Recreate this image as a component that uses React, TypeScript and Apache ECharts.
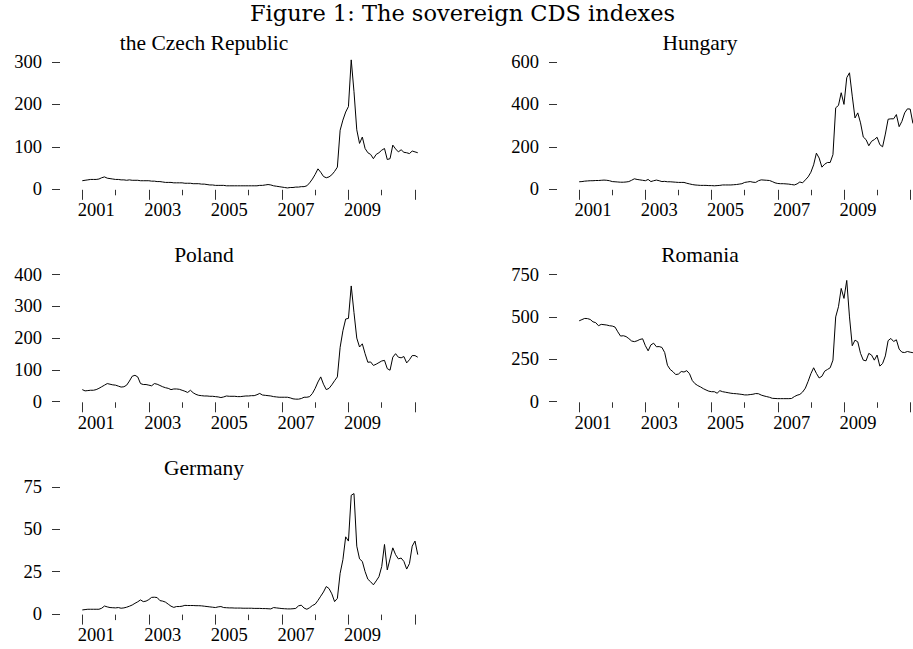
import React, { useEffect, useRef } from "react";
import * as echarts from "echarts";

// ---------- data (monthly, Jan 2001 .. Feb 2011) ----------
const START_YEAR = 2001;
const MAJOR_TICK_YEARS = [2001, 2003, 2005, 2007, 2009, 2011];
const MINOR_TICK_YEARS = [2002, 2004, 2006, 2008, 2010];
const LABEL_YEARS = [2001, 2003, 2005, 2007, 2009];

const czech = [
  20, 21, 22, 23, 23, 23, 24, 27, 29, 26, 25, 24,
  23, 23, 22, 22, 21, 22, 21, 21, 21, 20, 20, 20,
  20, 19, 19, 18, 18, 17, 16, 16, 16, 15, 15, 15,
  15, 14, 14, 14, 13, 13, 13, 12, 12, 11, 10, 10,
  9, 9, 9, 9, 8, 8, 8, 8, 8, 8, 8, 8,
  8, 8, 8, 8, 9, 9, 10, 11, 10, 8, 7, 6,
  5, 4, 3, 4, 4, 5, 5, 6, 6, 8, 15, 24,
  35, 48, 40, 30, 27, 29, 34, 42, 52, 139, 163, 182,
  195, 305, 230, 140, 108, 123, 96, 86, 82, 72, 82, 86,
  92, 96, 70, 72, 104, 95, 88, 93, 87, 86, 84, 90,
  88, 86,
];

const hungary = [
  35, 36, 38, 39, 40, 40, 41, 41, 42, 43, 42, 40,
  36, 35, 34, 33, 33, 34, 36, 42, 49, 46, 44, 42,
  40, 46, 36, 40, 43, 40, 36, 37, 35, 35, 34, 33,
  32, 32, 32, 28, 25, 22, 20, 19, 18, 18, 18, 17,
  17, 16, 17, 18, 20, 20, 20, 20, 21, 22, 24, 26,
  32, 34, 36, 33, 32, 40, 44, 43, 42, 41, 36, 30,
  27, 26, 26, 25, 24, 22, 20, 25, 34, 30, 44, 58,
  80, 115, 170, 147, 104, 118, 126, 126, 163, 384, 395, 455,
  400, 526, 549, 439, 336, 360, 313, 246, 234, 205, 226, 234,
  245, 210, 200, 260, 330, 332, 332, 352, 295, 320, 360, 379,
  378, 310,
];

const poland = [
  38, 34, 35, 36, 36, 38, 42, 47, 52, 57, 55, 53,
  52, 49, 46, 47, 52, 65, 80, 83, 78, 57, 54, 54,
  52, 50, 57, 55, 51, 47, 44, 42, 38, 40, 40, 39,
  36, 33, 29, 36, 28, 23, 20, 19, 18, 18, 17, 17,
  16, 15, 13, 15, 18, 17, 17, 17, 16, 16, 17, 18,
  18, 19, 19, 22, 26, 21, 20, 19, 18, 16, 15, 14,
  14, 14, 14, 12, 9, 8, 8, 10, 14, 14, 16, 26,
  42, 62, 78, 55, 38, 42, 53, 66, 78, 171, 223, 260,
  262, 364, 280, 200, 172, 182, 151, 124, 125, 114, 118, 123,
  128, 130, 104, 99, 140, 151, 140, 138, 142, 122, 132, 145,
  145, 140,
];

const romania = [
  477, 484, 491, 490, 485, 471, 466, 448, 456, 454, 452, 448,
  446, 440, 412, 387, 389, 384, 372, 358, 354, 359, 367, 371,
  330, 300, 335, 345, 324, 325, 320, 290, 215, 190, 177, 160,
  163, 178, 175, 183, 165, 125, 106, 95, 87, 77, 69, 62,
  59, 59, 50, 65, 59, 56, 53, 50, 48, 47, 45, 43,
  40, 40, 42, 44, 48, 47, 39, 34, 30, 26, 20, 19,
  18, 18, 18, 18, 18, 19, 30, 38, 43, 57, 80, 120,
  165, 200, 167, 140, 150, 180, 190, 200, 245, 500, 560, 668,
  609, 715, 500, 330, 363, 353, 285, 245, 241, 285, 275, 245,
  275, 210, 225, 270, 360, 373, 355, 365, 310, 292, 290, 296,
  292, 289,
];

const germany = [
  2.4, 2.6, 2.8, 2.8, 2.8, 2.8, 2.8, 3.4, 4.7, 4.2, 3.8, 3.7,
  3.6, 3.8, 3.4, 3.6, 4.0, 4.6, 5.3, 6.3, 7.2, 8.3, 7.3, 7.6,
  8.5, 9.8, 9.9, 9.7, 7.9, 7.6, 7.0, 5.8, 4.6, 3.9, 4.4, 4.4,
  4.6, 5.1, 5.0, 5.0, 5.0, 4.9, 4.9, 4.8, 4.6, 4.4, 4.2, 4.0,
  3.8, 4.2, 4.4, 3.8, 3.7, 3.6, 3.6, 3.5, 3.5, 3.5, 3.4, 3.4,
  3.4, 3.4, 3.3, 3.3, 3.3, 3.2, 3.2, 3.1, 3.0, 3.8, 3.6, 3.4,
  3.2, 3.1, 3.0, 3.0, 3.1, 3.3, 4.8, 5.2, 3.5, 2.8, 3.7, 5.0,
  5.8, 8.0, 10.5, 13.0, 16.2, 15.0, 11.9, 7.3, 9.2, 24.0, 32.0, 45.5,
  43.0, 70.0, 71.0, 40.0, 32.5, 31.0, 25.0, 20.5, 19.0, 17.2, 19.5, 22.0,
  28.0, 41.0, 26.0, 32.5, 39.0, 35.0, 32.5, 33.0, 31.0, 26.5, 29.7, 40.0,
  43.0, 35.0,
];

const czechTicks = [0, 100, 200, 300];
const hungaryTicks = [0, 200, 400, 600];
const polandTicks = [0, 100, 200, 300, 400];
const romaniaTicks = [0, 250, 500, 750];
const germanyTicks = [0, 25, 50, 75];

const MAIN_TITLE = "Figure 1: The sovereign CDS indexes";

const panels = [
  { name: "the Czech Republic", values: czech, ticks: czechTicks, col: 0, row: 0 },
  { name: "Hungary", values: hungary, ticks: hungaryTicks, col: 1, row: 0 },
  { name: "Poland", values: poland, ticks: polandTicks, col: 0, row: 1 },
  { name: "Romania", values: romania, ticks: romaniaTicks, col: 1, row: 1 },
  { name: "Germany", values: germany, ticks: germanyTicks, col: 0, row: 2 },
];

// ---------- layout ----------
const X_MIN = 2000.33;
const COL_X_MAX = [2011.5, 2011.085];
const COL_LEFT = [60, 557];
const COL_PX_PER_YEAR = [33.27, 33.1];
const ROW_ZERO = [189.2, 401.7, 614];
const TITLE_X = [204, 700];
const TITLE_BASELINE = [50, 262.5, 475];
const SPAN = 127.2; // px between 0 and top tick
const TOP_PAD = 12;
const BOT_PAD = 0.6;
const LABEL_SHIFT = 0.42;

const SERIF = '"Liberation Serif", "Times New Roman", serif';
const TICK_FONT = 18.5;
const TITLE_FONT = 21.5;
const MAIN_FONT = 22.5;

function buildOption() {
  const grid: any[] = [];
  const xAxis: any[] = [];
  const yAxis: any[] = [];
  const series: any[] = [];
  const graphic: any[] = [];

  panels.forEach((p, i) => {
    const top = p.ticks[p.ticks.length - 1];
    const scale = SPAN / top;
    const zero = ROW_ZERO[p.row];
    const xMax = COL_X_MAX[p.col];
    grid.push({
      left: COL_LEFT[p.col],
      width: (xMax - X_MIN) * COL_PX_PER_YEAR[p.col],
      top: zero - SPAN - TOP_PAD,
      height: SPAN + TOP_PAD + BOT_PAD,
      containLabel: false,
    });
    xAxis.push({
      type: "value",
      gridIndex: i,
      min: X_MIN,
      max: xMax,
      position: "bottom",
      axisLine: { show: false, onZero: false },
      splitLine: { show: false },
      axisTick: {
        show: true,
        customValues: MAJOR_TICK_YEARS,
        length: 10,
        lineStyle: { color: "#333", width: 1 },
      },
      axisLabel: {
        show: true,
        customValues: LABEL_YEARS.map((y) => y + LABEL_SHIFT),
        formatter: (v: number) => String(Math.round(v - LABEL_SHIFT)),
        margin: 11,
        color: "#000",
        fontFamily: SERIF,
        fontSize: TICK_FONT,
      },
    });
    xAxis.push({
      type: "value",
      gridIndex: i,
      min: X_MIN,
      max: xMax,
      position: "bottom",
      axisLine: { show: false, onZero: false },
      splitLine: { show: false },
      axisTick: {
        show: true,
        customValues: MINOR_TICK_YEARS,
        length: 5.5,
        lineStyle: { color: "#333", width: 1 },
      },
      axisLabel: { show: false },
    });
    yAxis.push({
      type: "value",
      gridIndex: i,
      min: -BOT_PAD / scale,
      max: top + TOP_PAD / scale,
      position: "left",
      axisLine: { show: false, onZero: false },
      splitLine: { show: false },
      axisTick: {
        show: true,
        customValues: p.ticks,
        length: 8,
        lineStyle: { color: "#333", width: 1 },
      },
      axisLabel: {
        show: true,
        customValues: p.ticks,
        margin: 18,
        color: "#000",
        fontFamily: SERIF,
        fontSize: TICK_FONT,
      },
    });
    series.push({
      type: "line",
      name: p.name,
      xAxisIndex: i * 2,
      yAxisIndex: i,
      data: p.values.map((v, k) => [START_YEAR + k / 12, v]),
      symbol: "none",
      showSymbol: false,
      silent: true,
      lineStyle: { color: "#000", width: 1 },
    });
    graphic.push({
      type: "text",
      x: TITLE_X[p.col],
      y: TITLE_BASELINE[p.row] - 0.3375 * TITLE_FONT,
      silent: true,
      style: {
        text: p.name,
        fill: "#000",
        font: `${TITLE_FONT}px ${SERIF}`,
        textAlign: "center",
        align: "center",
        textVerticalAlign: "middle",
        verticalAlign: "middle",
      },
    });
  });

  graphic.push({
    type: "text",
    x: 462.5,
    y: 20.7 - 0.346 * MAIN_FONT,
    silent: true,
    style: {
      text: MAIN_TITLE,
      fill: "#000",
      font: `${MAIN_FONT}px "DejaVu Serif", serif`,
      textAlign: "center",
      align: "center",
      textVerticalAlign: "middle",
      verticalAlign: "middle",
    },
  });

  return {
    animation: false,
    backgroundColor: "#fff",
    grid,
    xAxis,
    yAxis,
    series,
    graphic,
  };
}

export default function App() {
  const ref = useRef<HTMLDivElement>(null);
  useEffect(() => {
    if (!ref.current) return;
    const chart = echarts.init(ref.current, undefined, { renderer: "svg" });
    chart.setOption(buildOption() as any);
    return () => chart.dispose();
  }, []);
  return (
    <div
      ref={ref}
      style={{ position: "absolute", left: 0, top: 0, width: 913, height: 649, background: "#fff" }}
    />
  );
}
